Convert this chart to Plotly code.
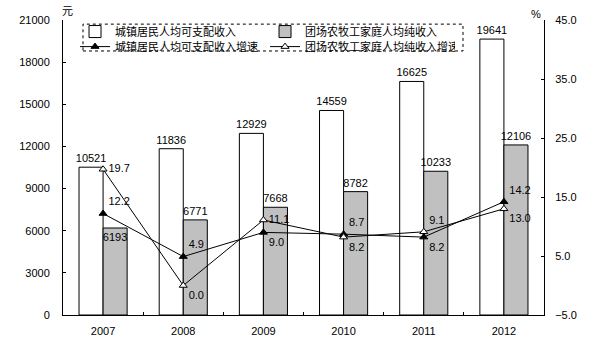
import plotly.graph_objects as go

years = ["2007", "2008", "2009", "2010", "2011", "2012"]
urban_income = [10521, 11836, 12929, 14559, 16625, 19641]
farm_income = [6193, 6771, 7668, 8782, 10233, 12106]
urban_growth = [12.2, 4.9, 9.0, 8.7, 8.2, 14.2]
farm_growth = [19.7, 0.0, 11.1, 8.2, 9.1, 13.0]

names = ["城镇居民人均可支配收入", "团场农牧工家庭人均纯收入",
         "城镇居民人均可支配收入增速", "团场农牧工家庭人均纯收入增速"]

FONT = "Liberation Sans, Arial, Noto Sans CJK SC"
CJK = "Noto Sans CJK SC, Liberation Sans"

fig = go.Figure()
fig.add_trace(go.Bar(
    x=years, y=urban_income, name=names[0], legend="legend",
    marker=dict(color="white", line=dict(color="black", width=1)),
    text=urban_income, textposition="outside", cliponaxis=False,
    constraintext="none", textangle=0,
    textfont=dict(size=11, color="black", family=FONT),
))
fig.add_trace(go.Bar(
    x=years, y=farm_income, name=names[1], legend="legend",
    marker=dict(color="#C0C0C0", line=dict(color="black", width=1)),
    text=farm_income,
    textposition=["inside", "outside", "outside", "outside", "outside", "outside"],
    insidetextanchor="end", cliponaxis=False,
    constraintext="none", textangle=0,
    textfont=dict(size=11, color="black", family=FONT),
    insidetextfont=dict(size=11, color="black", family=FONT),
))
fig.add_trace(go.Scatter(
    x=years, y=urban_growth, name=names[2], yaxis="y2", legend="legend2",
    mode="lines+markers+text",
    line=dict(color="black", width=1),
    marker=dict(symbol="triangle-up", size=7, color="black",
                line=dict(color="black", width=1)),
    texttemplate="%{y:.1f}",
    textposition=["top right", "top right", "bottom right", "top right",
                  "bottom right", "top right"],
    textfont=dict(size=11, color="black", family=FONT),
    cliponaxis=False,
))
fig.add_trace(go.Scatter(
    x=years, y=farm_growth, name=names[3], yaxis="y2", legend="legend2",
    mode="lines+markers+text",
    line=dict(color="black", width=1),
    marker=dict(symbol="triangle-up", size=7, color="white",
                line=dict(color="black", width=1)),
    texttemplate="%{y:.1f}",
    textposition=["middle right", "bottom right", "middle right", "bottom right",
                  "top right", "bottom right"],
    textfont=dict(size=11, color="black", family=FONT),
    cliponaxis=False,
))

legend_common = dict(
    orientation="h", xanchor="left", yanchor="top",
    entrywidth=145, entrywidthmode="pixels",
    font=dict(family=CJK, size=11, color="black"),
    bgcolor="rgba(0,0,0,0)", borderwidth=0, itemwidth=30,
)

fig.update_layout(
    width=594, height=352,
    margin=dict(l=63, r=50, t=20, b=37),
    paper_bgcolor="white", plot_bgcolor="white",
    barmode="group", bargap=0.4, bargroupgap=0,
    font=dict(family=FONT, size=11, color="black"),
    showlegend=True,
    legend=dict(x=0.025, y=1.010, **legend_common),
    legend2=dict(x=0.025, y=0.959, **legend_common),
    xaxis=dict(
        showline=True, linecolor="black", linewidth=1,
        ticks="inside", ticklen=3, tickson="boundaries", tickcolor="black",
        showgrid=False, tickfont=dict(size=11, family=FONT),
        ticklabelstandoff=6,
    ),
    yaxis=dict(
        range=[0, 21000], dtick=3000, tick0=0, tickformat="d",
        showline=True, linecolor="black", linewidth=1,
        ticks="inside", ticklen=3, tickcolor="black",
        showgrid=False, zeroline=False,
        tickfont=dict(size=11, family=FONT), ticklabelstandoff=10,
    ),
    yaxis2=dict(
        range=[-5, 45], dtick=10, tick0=-5, tickformat=".1f",
        overlaying="y", side="right",
        showline=True, linecolor="black", linewidth=1,
        ticks="inside", ticklen=3, tickcolor="black",
        showgrid=False, zeroline=False,
        tickfont=dict(size=11, family=FONT), ticklabelstandoff=8,
    ),
    shapes=[dict(
        type="rect", xref="paper", yref="paper",
        x0=0.0416, x1=0.8316, y0=0.895, y1=0.986,
        line=dict(color="black", width=1, dash="dot"),
    )],
    annotations=[
        dict(text="元", xref="paper", yref="paper", x=0.0, y=1.0,
             xanchor="left", yanchor="bottom", xshift=-3, yshift=0,
             showarrow=False, font=dict(family=CJK, size=11)),
        dict(text="%", xref="paper", yref="paper", x=1.0, y=1.0,
             xanchor="right", yanchor="bottom", xshift=-1, yshift=-2,
             showarrow=False, font=dict(family=FONT, size=11)),
    ],
)

fig.write_html("out.html")
